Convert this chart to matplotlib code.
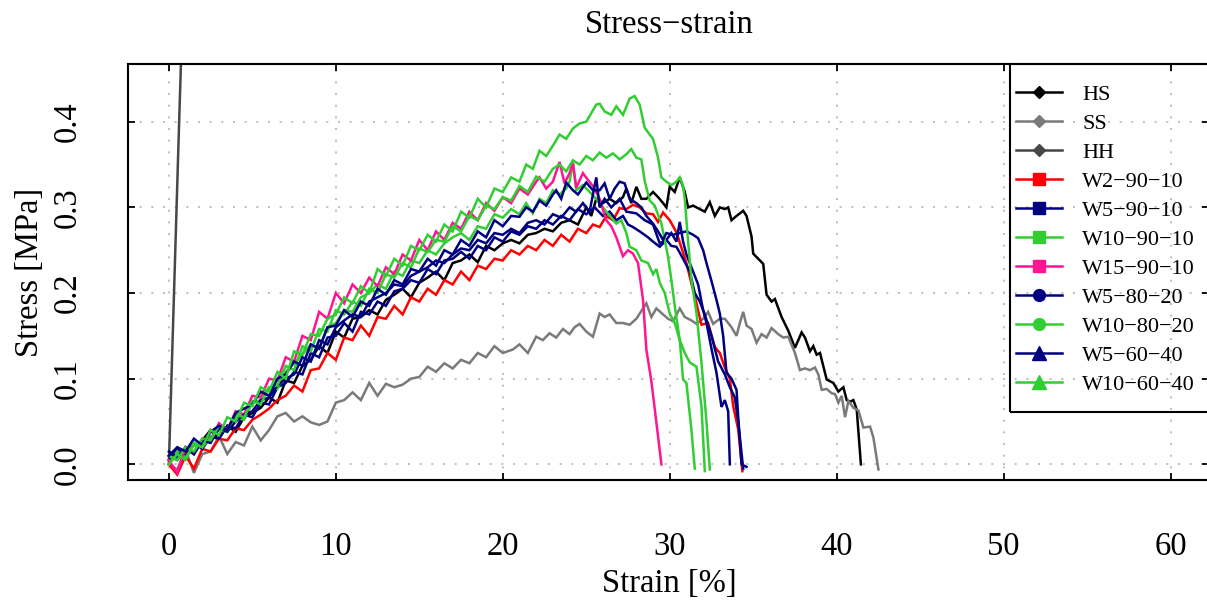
import matplotlib
matplotlib.use('Agg')
import matplotlib.pyplot as plt
from matplotlib.lines import Line2D
from matplotlib.patches import Rectangle

plt.rcParams['font.family'] = ['Liberation Serif', 'DejaVu Serif']

# ---------------- data ----------------
rise_strain = [0, 0.5, 1, 1.5, 2, 2.5, 3, 3.5, 4, 4.5, 5, 5.5, 6, 6.5, 7, 7.5, 8, 8.5, 9, 9.5,
               10, 10.5, 11, 11.5, 12, 12.5, 13, 13.5, 14, 14.5, 15, 15.5, 16, 16.5, 17, 17.5,
               18, 18.5, 19, 19.5, 20]

hs_rise = [0.01, 0.005, 0.018, 0.012, 0.028, 0.04, 0.03, 0.045, 0.038, 0.055,
           0.06, 0.066, 0.078, 0.072, 0.098, 0.095, 0.115, 0.122, 0.138, 0.13,
           0.155, 0.148, 0.17, 0.172, 0.18, 0.175, 0.192, 0.198, 0.205, 0.195,
           0.212, 0.218, 0.225, 0.215, 0.235, 0.238, 0.245, 0.236, 0.255, 0.25, 0.258]
hs_tail_strain = [20.5, 21, 21.5, 22, 22.5, 23, 23.5, 24, 24.5, 25, 25.3, 25.6, 26, 26.4, 26.8,
                  27.2, 27.4, 27.7, 28.0, 28.3, 28.6, 29.0, 29.3, 29.6, 29.8, 30.0, 30.3, 30.6,
                  30.9, 31.1, 31.4, 31.8, 32.1, 32.4, 32.7, 33.0, 33.3, 33.5, 33.7, 34.0, 34.2,
                  34.4, 34.6, 34.9, 35.0, 35.3, 35.6, 35.8, 36.1, 36.3, 36.7, 37.1, 37.5, 37.9,
                  38.1, 38.4, 38.6, 38.8, 39.0, 39.4, 39.8, 40.1, 40.4, 40.6, 40.8, 41.0, 41.2,
                  41.45]
hs_tail_stress = [0.262, 0.258, 0.268, 0.27, 0.275, 0.272, 0.282, 0.285, 0.28, 0.3, 0.29, 0.31,
                  0.305, 0.31, 0.305, 0.312, 0.322, 0.305, 0.324, 0.31, 0.31, 0.318, 0.312,
                  0.305, 0.3, 0.324, 0.318, 0.335, 0.318, 0.3, 0.302, 0.298, 0.295, 0.306,
                  0.29, 0.3, 0.298, 0.3, 0.285, 0.29, 0.293, 0.296, 0.29, 0.266, 0.246, 0.24,
                  0.234, 0.198, 0.19, 0.193, 0.172, 0.156, 0.136, 0.154, 0.148, 0.132, 0.138,
                  0.128, 0.13, 0.099, 0.095, 0.085, 0.09, 0.075, 0.073, 0.075, 0.064, 0.0]

ss_rise = [0.0, -0.006, 0.017, -0.01, 0.012, 0.015, 0.033, 0.012, 0.026, 0.022,
           0.044, 0.028, 0.04, 0.056, 0.06, 0.05, 0.056, 0.049, 0.046, 0.05,
           0.072, 0.075, 0.084, 0.075, 0.095, 0.08, 0.094, 0.09, 0.093, 0.1,
           0.102, 0.114, 0.108, 0.118, 0.112, 0.122, 0.118, 0.13, 0.125, 0.138, 0.13]
ss_tail_strain = [20.6, 21.0, 21.5, 22.0, 22.4, 22.8, 23.2, 23.6, 24.0, 24.3, 24.6, 25.0, 25.4,
                  25.8, 26.1, 26.4, 26.8, 27.2, 27.6, 28.0, 28.6, 28.9, 29.2, 29.6, 29.9, 30.2,
                  30.6, 30.9, 31.3, 31.6, 32.0, 32.3, 32.6, 33.0, 33.3, 33.7, 34.0, 34.2, 34.4,
                  34.6, 34.9, 35.2, 35.5, 35.8, 36.1, 36.5, 36.8, 37.1, 37.5, 37.8, 38.1, 38.4,
                  38.7, 38.9, 39.1, 39.4, 39.7, 39.9, 40.1, 40.3, 40.5, 40.7, 41.0, 41.3, 41.6,
                  42.0, 42.2, 42.5]
ss_tail_stress = [0.134, 0.14, 0.13, 0.149, 0.145, 0.153, 0.148, 0.158, 0.152, 0.16, 0.164,
                  0.155, 0.149, 0.176, 0.172, 0.175, 0.165, 0.165, 0.163, 0.17, 0.188, 0.172,
                  0.182, 0.175, 0.17, 0.167, 0.182, 0.172, 0.168, 0.164, 0.17, 0.178, 0.164,
                  0.17, 0.17, 0.16, 0.15, 0.165, 0.178, 0.162, 0.158, 0.142, 0.152, 0.148,
                  0.159, 0.152, 0.148, 0.149, 0.13, 0.11, 0.112, 0.11, 0.113, 0.105, 0.087,
                  0.088, 0.083, 0.082, 0.072, 0.08, 0.055, 0.074, 0.066, 0.063, 0.043, 0.044,
                  0.031, -0.006]

hh_strain = [0.0, 0.3, 0.6, 0.9, 1.2]
hh_stress = [0.0, 0.195, 0.39, 0.58, 0.78]

w2_rise = [0.0, -0.012, 0.01, -0.005, 0.018, 0.015, 0.03, 0.028, 0.042, 0.04,
           0.052, 0.058, 0.065, 0.075, 0.08, 0.092, 0.085, 0.11, 0.112, 0.13,
           0.122, 0.148, 0.145, 0.162, 0.15, 0.172, 0.17, 0.185, 0.175, 0.195,
           0.19, 0.205, 0.198, 0.215, 0.21, 0.225, 0.215, 0.232, 0.228, 0.24, 0.238]
w2_tail_strain = [20.5, 21, 21.5, 22, 22.5, 23, 23.5, 24, 24.5, 25, 25.4, 25.8, 26.2, 26.6, 27,
                  27.4, 27.8, 28.2, 28.6, 29.0, 29.3, 29.6, 30.0, 30.4, 30.7, 31.0, 31.3, 31.6,
                  31.9, 32.3, 32.7, 33.0, 33.3, 33.6, 33.8, 34.1, 34.35]
w2_tail_stress = [0.25, 0.245, 0.255, 0.25, 0.262, 0.255, 0.268, 0.26, 0.275, 0.27, 0.28, 0.277,
                  0.29, 0.285, 0.299, 0.298, 0.303, 0.3, 0.293, 0.292, 0.283, 0.294, 0.285,
                  0.271, 0.253, 0.235, 0.211, 0.188, 0.163, 0.165, 0.137, 0.13, 0.113, 0.1,
                  0.068, 0.041, -0.008]

w5_9010_rise = [0.005, 0.018, 0.01, 0.025, 0.018, 0.032, 0.03, 0.045, 0.042, 0.058,
                0.055, 0.072, 0.07, 0.09, 0.095, 0.108, 0.105, 0.13, 0.125, 0.148,
                0.15, 0.165, 0.155, 0.178, 0.175, 0.19, 0.185, 0.202, 0.205, 0.215,
                0.212, 0.228, 0.222, 0.238, 0.24, 0.248, 0.24, 0.255, 0.25, 0.265, 0.26]
w5_9010_tail_strain = [20.5, 21, 21.5, 22, 22.5, 23, 23.5, 24, 24.5, 25, 25.5, 26, 26.4, 26.8,
                       27.2, 27.5, 27.8, 28.2, 28.7, 29.0, 29.4, 29.8, 30.1, 30.4, 30.8, 31.2,
                       31.5, 31.8, 32.1, 32.5, 32.9, 33.3, 33.6, 33.9, 34.1, 34.4]
w5_9010_tail_stress = [0.272, 0.268, 0.278, 0.275, 0.285, 0.28, 0.29, 0.285, 0.298, 0.292, 0.3,
                       0.29, 0.295, 0.285, 0.29, 0.28, 0.277, 0.272, 0.265, 0.26, 0.254, 0.262,
                       0.255, 0.254, 0.24, 0.225, 0.2, 0.19, 0.175, 0.15, 0.12, 0.105, 0.09,
                       0.078, 0.05, -0.005]

w10_9010_rise = [0.0, 0.015, 0.008, 0.022, 0.02, 0.032, 0.04, 0.038, 0.055, 0.052,
                 0.072, 0.075, 0.09, 0.088, 0.108, 0.118, 0.128, 0.14, 0.135, 0.16,
                 0.165, 0.18, 0.178, 0.195, 0.2, 0.21, 0.205, 0.225, 0.22, 0.238,
                 0.235, 0.25, 0.245, 0.258, 0.265, 0.27, 0.262, 0.278, 0.275, 0.292, 0.288]
w10_9010_tail_strain = [20.5, 21, 21.4, 21.8, 22.2, 22.6, 23.0, 23.4, 23.8, 24.0, 24.2, 24.4,
                        24.8, 25.2, 25.5, 25.8, 26.2, 26.5, 26.8, 27.1, 27.4, 27.6, 28.0, 28.3,
                        28.7, 29.0, 29.2, 29.4, 29.7, 30.0, 30.3, 30.6, 30.8, 31.0, 31.3, 31.5]
w10_9010_tail_stress = [0.298, 0.292, 0.305, 0.293, 0.31, 0.305, 0.32, 0.315, 0.322, 0.33,
                        0.352, 0.32, 0.326, 0.318, 0.312, 0.305, 0.295, 0.288, 0.281, 0.285,
                        0.27, 0.254, 0.25, 0.238, 0.235, 0.222, 0.228, 0.212, 0.2, 0.176,
                        0.165, 0.145, 0.099, 0.095, 0.04, -0.005]

w15_9010_rise = [0.005, -0.01, 0.02, 0.012, 0.03, 0.028, 0.048, 0.04, 0.062, 0.058,
                 0.08, 0.078, 0.1, 0.098, 0.125, 0.12, 0.15, 0.145, 0.178, 0.17,
                 0.2, 0.188, 0.21, 0.2, 0.218, 0.208, 0.23, 0.222, 0.245, 0.238,
                 0.262, 0.25, 0.272, 0.262, 0.282, 0.275, 0.295, 0.285, 0.305, 0.296, 0.312]
w15_9010_tail_strain = [20.5, 21, 21.5, 22, 22.2, 22.6, 23, 23.4, 23.7, 24.0, 24.2, 24.4, 24.8,
                        25.1, 25.4, 25.8, 26.2, 26.5, 26.8, 27.2, 27.5, 27.8, 28.1, 28.4, 28.6,
                        28.9, 29.2, 29.5]
w15_9010_tail_stress = [0.305, 0.322, 0.315, 0.33, 0.335, 0.322, 0.33, 0.353, 0.328, 0.34,
                        0.352, 0.323, 0.34, 0.332, 0.325, 0.31, 0.285, 0.278, 0.265, 0.243,
                        0.25, 0.246, 0.235, 0.192, 0.134, 0.097, 0.049, 0.0]

w5_8020_rise = [0.015, 0.008, 0.02, 0.012, 0.028, 0.025, 0.042, 0.038, 0.05, 0.058,
                0.062, 0.075, 0.078, 0.092, 0.1, 0.105, 0.125, 0.12, 0.145, 0.14,
                0.16, 0.168, 0.175, 0.172, 0.19, 0.195, 0.2, 0.21, 0.208, 0.22,
                0.225, 0.23, 0.238, 0.235, 0.245, 0.252, 0.25, 0.262, 0.258, 0.27, 0.268]
w5_8020_tail_strain = [20.5, 21, 21.5, 22, 22.5, 23, 23.5, 24, 24.4, 24.8, 25.2, 25.6, 25.8,
                       26.1, 26.5, 27, 27.4, 28, 28.5, 29, 29.4, 29.8, 30.1, 30.4, 30.6, 30.8,
                       31.0, 31.3, 31.7, 32.0, 32.2, 32.5, 32.8, 33.1, 33.3, 33.5, 33.6]
w5_8020_tail_stress = [0.275, 0.27, 0.282, 0.285, 0.28, 0.292, 0.288, 0.3, 0.295, 0.305, 0.295,
                       0.335, 0.3, 0.31, 0.3, 0.31, 0.295, 0.293, 0.285, 0.28, 0.258, 0.262,
                       0.27, 0.26, 0.283, 0.26, 0.245, 0.23, 0.21, 0.18, 0.165, 0.135, 0.107,
                       0.067, 0.075, 0.062, 0.0]

w10_8020_rise = [0.01, 0.005, 0.02, 0.015, 0.03, 0.028, 0.045, 0.04, 0.058, 0.055,
                 0.074, 0.07, 0.09, 0.092, 0.115, 0.11, 0.138, 0.132, 0.158, 0.155,
                 0.18, 0.175, 0.19, 0.185, 0.205, 0.2, 0.222, 0.218, 0.235, 0.23,
                 0.252, 0.248, 0.262, 0.26, 0.278, 0.272, 0.29, 0.285, 0.302, 0.298, 0.312]
w10_8020_tail_strain = [20.5, 21, 21.5, 22, 22.5, 23, 23.4, 23.8, 24.2, 24.6, 25.0, 25.4, 25.8,
                        26.2, 26.6, 27.0, 27.4, 27.7, 28.0, 28.3, 28.5, 28.8, 29.1, 29.5, 29.7,
                        29.9, 30.1, 30.3, 30.6, 30.9, 31.2, 31.6, 31.9, 32.1]
w10_8020_tail_stress = [0.308, 0.325, 0.318, 0.336, 0.33, 0.345, 0.35, 0.342, 0.355, 0.35,
                        0.36, 0.355, 0.364, 0.358, 0.363, 0.356, 0.362, 0.368, 0.358, 0.356,
                        0.331, 0.308, 0.302, 0.281, 0.262, 0.242, 0.215, 0.185, 0.145, 0.13,
                        0.119, 0.114, 0.068, -0.008]

w5_6040_rise = [0.01, 0.02, 0.015, 0.03, 0.022, 0.038, 0.045, 0.04, 0.06, 0.065,
                0.07, 0.085, 0.08, 0.1, 0.105, 0.12, 0.115, 0.14, 0.135, 0.16,
                0.162, 0.18, 0.172, 0.19, 0.185, 0.205, 0.198, 0.215, 0.21, 0.228,
                0.225, 0.24, 0.232, 0.25, 0.245, 0.262, 0.255, 0.272, 0.265, 0.285, 0.278]
w5_6040_tail_strain = [20.5, 21.0, 21.4, 21.8, 22.2, 22.6, 23.0, 23.2, 23.5, 23.8, 24.2, 24.5,
                       25.0, 25.4, 25.8, 26.1, 26.4, 26.7, 27.0, 27.3, 27.6, 28.0, 28.3, 28.6,
                       29.0, 29.3, 29.6, 29.8, 30.2, 30.6, 31.0, 31.4, 31.7, 32.0, 32.2, 32.5,
                       32.8, 33.0, 33.2, 33.4, 33.7, 34.0, 34.1, 34.3, 34.6]
w5_6040_tail_stress = [0.29, 0.289, 0.3, 0.295, 0.308, 0.302, 0.315, 0.32, 0.31, 0.329, 0.32,
                       0.315, 0.329, 0.32, 0.32, 0.328, 0.31, 0.322, 0.33, 0.328, 0.31, 0.305,
                       0.3, 0.29, 0.281, 0.272, 0.262, 0.27, 0.268, 0.27, 0.272, 0.268, 0.264,
                       0.25, 0.235, 0.214, 0.192, 0.176, 0.15, 0.107, 0.1, 0.087, 0.056, 0.0,
                       -0.003]

w10_6040_rise = [0.0, 0.012, 0.005, 0.025, 0.02, 0.04, 0.034, 0.055, 0.05, 0.072,
                 0.068, 0.09, 0.085, 0.108, 0.1, 0.132, 0.128, 0.152, 0.15, 0.17,
                 0.175, 0.195, 0.188, 0.208, 0.2, 0.228, 0.22, 0.24, 0.232, 0.255,
                 0.25, 0.268, 0.26, 0.28, 0.272, 0.295, 0.288, 0.31, 0.3, 0.322, 0.318]
w10_6040_tail_strain = [20.5, 21, 21.4, 21.8, 22.2, 22.6, 23.0, 23.4, 23.8, 24.2, 24.6, 25.0,
                        25.3, 25.6, 25.8, 26.1, 26.5, 26.8, 27.2, 27.6, 27.9, 28.2, 28.5, 28.8,
                        29.0, 29.3, 29.5, 29.8, 30.1, 30.4, 30.6, 30.8, 30.9, 31.1, 31.3, 31.6,
                        31.9, 32.2, 32.4]
w10_6040_tail_stress = [0.335, 0.33, 0.35, 0.345, 0.366, 0.36, 0.372, 0.385, 0.38, 0.392, 0.398,
                        0.4, 0.41, 0.42, 0.421, 0.412, 0.408, 0.418, 0.408, 0.427, 0.43, 0.42,
                        0.393, 0.385, 0.38, 0.358, 0.335, 0.33, 0.326, 0.33, 0.335, 0.325,
                        0.31, 0.26, 0.215, 0.177, 0.119, 0.05, -0.006]

labels = ['HS', 'SS', 'HH', 'W2\u221290\u221210', 'W5\u221290\u221210', 'W10\u221290\u221210',
          'W15\u221290\u221210', 'W5\u221280\u221220', 'W10\u221280\u221220',
          'W5\u221260\u221240', 'W10\u221260\u221240']
colors = ['#000000', '#7a7a7a', '#474747', '#ff0000', '#000080', '#32cd32',
          '#ff1493', '#000080', '#32cd32', '#000080', '#32cd32']
markers = ['D', 'D', 'D', 's', 's', 's', 's', 'o', 'o', '^', '^']
marker_sizes = [6.5, 6.5, 6.5, 8.5, 8.5, 8.5, 8.5, 8.5, 8.5, 9.5, 9.5]

x_ticks = [0, 10, 20, 30, 40, 50, 60]
y_ticks = [0.0, 0.1, 0.2, 0.3, 0.4]
y_tick_labels = ['0.0', '0.1', '0.2', '0.3', '0.4']

# ---------------- assemble curves ----------------
curves = [
    (rise_strain + hs_tail_strain, hs_rise + hs_tail_stress),
    (rise_strain + ss_tail_strain, ss_rise + ss_tail_stress),
    (hh_strain, hh_stress),
    (rise_strain + w2_tail_strain, w2_rise + w2_tail_stress),
    (rise_strain + w5_9010_tail_strain, w5_9010_rise + w5_9010_tail_stress),
    (rise_strain + w10_9010_tail_strain, w10_9010_rise + w10_9010_tail_stress),
    (rise_strain + w15_9010_tail_strain, w15_9010_rise + w15_9010_tail_stress),
    (rise_strain + w5_8020_tail_strain, w5_8020_rise + w5_8020_tail_stress),
    (rise_strain + w10_8020_tail_strain, w10_8020_rise + w10_8020_tail_stress),
    (rise_strain + w5_6040_tail_strain, w5_6040_rise + w5_6040_tail_stress),
    (rise_strain + w10_6040_tail_strain, w10_6040_rise + w10_6040_tail_stress),
]

W, H = 1207, 606
fig = plt.figure(figsize=(W / 100, H / 100), dpi=100)
ax_l, ax_r, ax_t, ax_b = 128.3, 1209.0, 64.0, 480.0
ax = fig.add_axes([ax_l / W, 1 - ax_b / H, (ax_r - ax_l) / W, (ax_b - ax_t) / H])

for (xs, ys), c in zip(curves, colors):
    ax.plot(xs, ys, color=c, lw=1.8, solid_joinstyle='miter', zorder=2)

ax.set_xlim(-2.43, 62.3)
ax.set_ylim(-0.0183, 0.4674)
ax.set_xticks(x_ticks)
ax.set_xticklabels([str(v) for v in x_ticks])
ax.set_yticks(y_ticks)
ax.set_yticklabels(y_tick_labels)

ax.set_axisbelow(True)
ax.grid(True, color='#bdbdbd', linestyle=(0, (1, 5)), linewidth=1.4)
for s in ax.spines.values():
    s.set_linewidth(1.5)
    s.set_color('black')

ax.tick_params(direction='in', length=5, width=1.3, top=True, right=True,
               labelsize=23.5, colors='black')
ax.tick_params(axis='x', pad=37)
ax.tick_params(axis='y', pad=33)
for lab in ax.get_yticklabels():
    lab.set_rotation(90)
    lab.set_va('center')

fig.text(669 / W, 1 - 25 / H, 'Stress\u2212strain', ha='center', va='center', fontsize=23.5)
fig.text(669 / W, 1 - 584 / H, 'Strain [%]', ha='center', va='center', fontsize=23.5)
fig.text(30 / W, 1 - 272 / H, 'Stress [MPa]', ha='center', va='center', fontsize=23.5,
         rotation=90)

# legend box
bx0 = (1010 - ax_l) / (ax_r - ax_l)
by0 = (ax_b - 412) / (ax_b - ax_t)
ax.add_patch(Rectangle((bx0, by0), 1.2, 1.0 - by0, transform=ax.transAxes, fill=False,
                       edgecolor='black', lw=1.5, clip_on=False, zorder=5))

handles = [Line2D([], [], color=c, lw=1.8, marker=m, markersize=ms,
                  markerfacecolor=c, markeredgecolor=c)
           for c, m, ms in zip(colors, markers, marker_sizes)]
leg = fig.legend(handles, labels, loc='upper left',
                 bbox_to_anchor=(1016 / W, 1 - 84 / H), frameon=False,
                 borderpad=0, borderaxespad=0, fontsize=16, handlelength=2.07,
                 handletextpad=0.9, labelspacing=0.38)

fig.savefig('out.png', dpi=100)
